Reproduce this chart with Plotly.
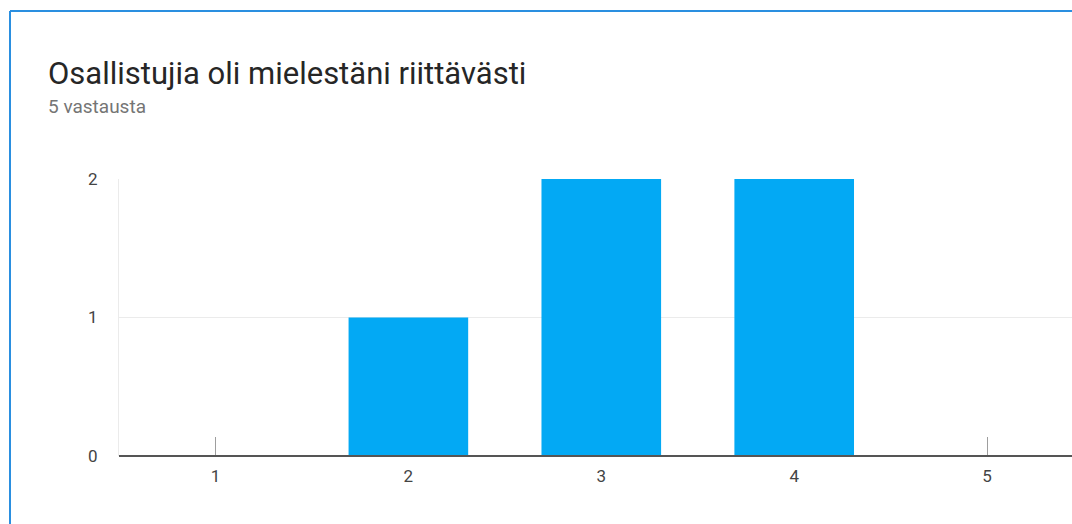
import plotly.graph_objects as go

categories = ["1", "2", "3", "4", "5"]
counts = [0, 1, 2, 2, 0]
y_ticks = [0, 1, 2]
title_text = "Osallistujia oli mielestäni riittävästi"
subtitle_text = "5 vastausta"

W, H = 1072, 524
L, R, T, B = 119, 0, 179, 68
pw = W - L - R
ph = H - T - B


def px_x(x):
    return (x - L) / pw


def px_y(y):
    return (H - B - y) / ph


fig = go.Figure()
fig.add_trace(go.Bar(
    x=list(range(len(categories))),
    y=counts,
    marker=dict(color="#03a9f4", line=dict(width=0)),
    width=0.62,
    hoverinfo="x+y",
))

fig.update_layout(
    width=W, height=H,
    margin=dict(l=L, r=R, t=T, b=B, autoexpand=False),
    paper_bgcolor="white",
    plot_bgcolor="white",
    showlegend=False,
    font=dict(family="Roboto, Arial, sans-serif", color="#444444"),
    xaxis=dict(
        range=[-0.5, 4.44],
        tickmode="array",
        tickvals=list(range(len(categories))),
        ticktext=categories,
        ticks="inside",
        ticklen=19,
        tickwidth=1,
        tickcolor="#9e9e9e",
        showgrid=False,
        showline=False,
        zeroline=False,
        layer="below traces",
        tickfont=dict(size=17, color="#444444"),
        ticklabelstandoff=8,
        fixedrange=True,
    ),
    yaxis=dict(
        range=[0, 2],
        tickmode="array",
        tickvals=y_ticks,
        ticktext=[str(v) for v in y_ticks],
        showgrid=True,
        gridcolor="#ebebeb",
        gridwidth=1,
        showline=True,
        linecolor="#ebebeb",
        linewidth=1,
        zeroline=False,
        ticks="",
        layer="below traces",
        tickfont=dict(size=17, color="#444444"),
        ticklabelstandoff=17,
        fixedrange=True,
    ),
    shapes=[
        dict(type="line", xref="paper", yref="paper", x0=0, x1=px_x(W + 10), y0=0, y1=0,
             line=dict(color="#555555", width=2), layer="above"),
        dict(type="line", xref="paper", yref="paper",
             x0=px_x(10), x1=px_x(10), y0=px_y(11), y1=px_y(H + 5),
             line=dict(color="#2a8fe0", width=2), layer="above"),
        dict(type="line", xref="paper", yref="paper",
             x0=px_x(10), x1=px_x(W + 5), y0=px_y(11), y1=px_y(11),
             line=dict(color="#2a8fe0", width=2), layer="above"),
    ],
    annotations=[
        dict(text=title_text, xref="paper", yref="paper",
             x=px_x(46), y=px_y(53), xanchor="left", yanchor="top",
             showarrow=False, font=dict(size=31, color="#262626",
                                        family="Roboto, Arial, sans-serif")),
        dict(text=subtitle_text, xref="paper", yref="paper",
             x=px_x(46), y=px_y(93), xanchor="left", yanchor="top",
             showarrow=False, font=dict(size=19, color="#757575",
                                        family="Roboto, Arial, sans-serif")),
    ],
)

fig.write_html("out.html", config={"displayModeBar": False})

with open("out.html", "r", encoding="utf-8") as f:
    html = f.read()
html = html.replace("<body>", '<body style="margin:0;padding:0;overflow:hidden">', 1)
with open("out.html", "w", encoding="utf-8") as f:
    f.write(html)
